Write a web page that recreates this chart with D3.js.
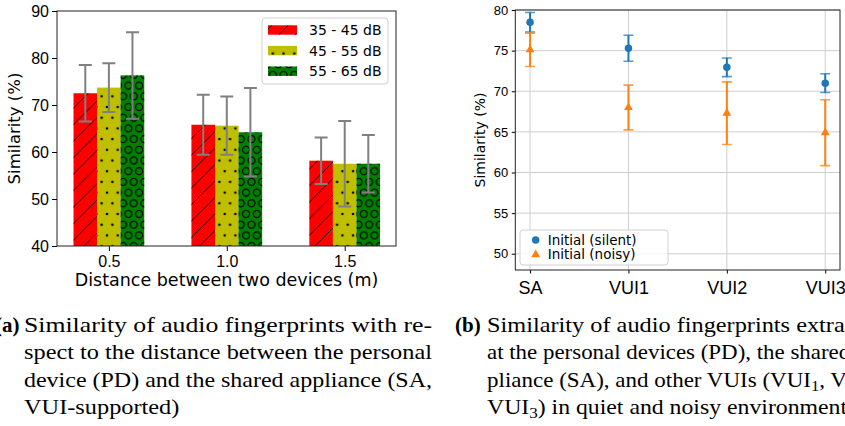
<!DOCTYPE html>
<html>
<head>
<meta charset="utf-8">
<script src="https://cdn.jsdelivr.net/npm/d3@7"></script>
<style>
body { margin: 0; background: #fff; }
svg { display: block; font-family: "DejaVu Sans", sans-serif; }
.caption text { font-family: "Liberation Serif", "DejaVu Serif", serif; }
</style>
</head>
<body>
<svg id="fig" width="845" height="426"></svg>
<script>
// (a) similarity vs distance, three noise levels
var distances = ["0.5", "1.0", "1.5"],
    noiseLevels = ["35 - 45 dB", "45 - 55 dB", "55 - 65 dB"],
    simLow = [72.5, 65.8, 58.15],
    errLow = [6.0, 6.4, 4.95],
    simMid = [73.7, 65.6, 57.5],
    errMid = [5.2, 6.2, 9.1],
    simHigh = [76.3, 64.2, 57.5],
    errHigh = [9.2, 9.4, 6.1],
    yTicksA = [40, 50, 60, 70, 80, 90];

// (b) similarity per device, silent vs noisy
var devices = ["SA", "VUI1", "VUI2", "VUI3"],
    silent = [78.5, 75.3, 72.95, 71.0],
    silentErr = [1.2, 1.6, 1.15, 1.15],
    noisy = [75.1, 68.0, 67.3, 64.9],
    noisyErr = [2.05, 2.75, 3.85, 4.05],
    yTicksB = [50, 55, 60, 65, 70, 75, 80];

var svg = d3.select("#fig");
var defs = svg.append("defs");

// hatch patterns (matplotlib style: '/', '.', 'O')
var s = 10.7;
defs.append("pattern")
    .attr("id", "hatchDiag")
    .attr("patternUnits", "userSpaceOnUse")
    .attr("width", 16.5).attr("height", 16.5)
  .append("path")
    .attr("d", "M-4,4L4,-4M0,16.5L16.5,0M12.5,20.5L20.5,12.5")
    .attr("stroke", "#000").attr("stroke-width", 0.9);

var pDots = defs.append("pattern")
    .attr("id", "hatchDots")
    .attr("patternUnits", "userSpaceOnUse")
    .attr("width", s).attr("height", 2 * s);
var pCirc = defs.append("pattern")
    .attr("id", "hatchCircles")
    .attr("patternUnits", "userSpaceOnUse")
    .attr("width", s).attr("height", 2 * s);
var spots = [[0, 0], [s, 0], [0, 2 * s], [s, 2 * s], [s / 2, s]];
pDots.selectAll("circle").data(spots).join("circle")
    .attr("cx", d => d[0]).attr("cy", d => d[1]).attr("r", 1.3)
    .attr("fill", "#000");
pCirc.selectAll("circle").data(spots).join("circle")
    .attr("cx", d => d[0]).attr("cy", d => d[1]).attr("r", 3.5)
    .attr("fill", "none").attr("stroke", "#000").attr("stroke-width", 1.2);

// ---------- panel (a) ----------
var xA = d3.scaleLinear().domain([-0.44, 2.435]).range([57, 396]),
    yA = d3.scaleLinear().domain([40, 90]).range([246, 11]),
    barW = 0.2;

var seriesA = [
  {name: noiseLevels[0], vals: simLow, errs: errLow, color: "#ff0000", hatch: "hatchDiag"},
  {name: noiseLevels[1], vals: simMid, errs: errMid, color: "#bfbf00", hatch: "hatchDots"},
  {name: noiseLevels[2], vals: simHigh, errs: errHigh, color: "#008000", hatch: "hatchCircles"}
];

var gA = svg.append("g");

seriesA.forEach(function(ser, k) {
  var off = (k - 1) * barW;
  var g = gA.append("g");
  var rows = ser.vals.map((v, i) => ({i: i, v: v, e: ser.errs[i]}));
  g.selectAll("rect.fill").data(rows).join("rect")
      .attr("class", "fill")
      .attr("x", d => xA(d.i + off - barW / 2))
      .attr("width", d => xA(d.i + off + barW / 2) - xA(d.i + off - barW / 2))
      .attr("y", d => yA(d.v))
      .attr("height", d => yA(40) - yA(d.v))
      .attr("fill", ser.color);
  g.selectAll("rect.hatch").data(rows).join("rect")
      .attr("class", "hatch")
      .attr("x", d => xA(d.i + off - barW / 2))
      .attr("width", d => xA(d.i + off + barW / 2) - xA(d.i + off - barW / 2))
      .attr("y", d => yA(d.v))
      .attr("height", d => yA(40) - yA(d.v))
      .attr("fill", "url(#" + ser.hatch + ")");
});

// error bars on top of all bars
seriesA.forEach(function(ser, k) {
  var off = (k - 1) * barW;
  var rows = ser.vals.map((v, i) => ({i: i, v: v, e: ser.errs[i]}));
  var eb = gA.append("g").attr("stroke", "#808080").attr("stroke-width", 2).attr("fill", "none");
  eb.selectAll("path").data(rows).join("path")
      .attr("d", function(d) {
        var cx = xA(d.i + off), t = yA(d.v + d.e), b = yA(d.v - d.e), c = 6.5;
        return "M" + cx + "," + t + "V" + b +
               "M" + (cx - c) + "," + t + "H" + (cx + c) +
               "M" + (cx - c) + "," + b + "H" + (cx + c);
      });
});

gA.append("g")
    .attr("transform", "translate(57,0)")
    .call(d3.axisLeft(yA).tickValues(yTicksA).tickSize(5).tickPadding(3))
    .call(g => g.select(".domain").remove())
    .call(g => g.selectAll("text").attr("font-size", 16).attr("fill", "#000"));

gA.append("g")
    .attr("transform", "translate(0,246)")
    .call(d3.axisBottom(xA).tickValues([0, 1, 2]).tickFormat(i => distances[i]).tickSize(5).tickPadding(4.5))
    .call(g => g.select(".domain").remove())
    .call(g => g.selectAll("text").attr("font-size", 16).attr("fill", "#000"));

gA.append("rect")
    .attr("x", 57).attr("y", 11).attr("width", 339).attr("height", 235)
    .attr("fill", "none").attr("stroke", "#222").attr("stroke-width", 1);

gA.append("text")
    .attr("x", 226.5).attr("y", 286)
    .attr("text-anchor", "middle").attr("font-size", 17.5)
    .text("Distance between two devices (m)");

gA.append("text")
    .attr("transform", "translate(20,128.5) rotate(-90)")
    .attr("text-anchor", "middle").attr("font-size", 16.5)
    .text("Similarity (%)");

// legend (a)
var legA = gA.append("g");
legA.append("rect")
    .attr("x", 262).attr("y", 18).attr("width", 126).attr("height", 66).attr("rx", 3)
    .attr("fill", "#fff").attr("fill-opacity", 0.8)
    .attr("stroke", "#d0d0d0");
seriesA.forEach(function(ser, k) {
  var cy = 30 + k * 20.6;
  legA.append("rect").attr("x", 268).attr("y", cy - 4.7).attr("width", 29).attr("height", 9.4)
      .attr("fill", ser.color);
  legA.append("rect").attr("x", 268).attr("y", cy - 4.7).attr("width", 29).attr("height", 9.4)
      .attr("fill", "url(#" + ser.hatch + ")");
  legA.append("text").attr("x", 309).attr("y", cy).attr("dy", "0.36em")
      .attr("font-size", 14).text(ser.name);
});

// ---------- panel (b) ----------
var xB = d3.scaleLinear().domain([-0.15, 3.15]).range([515.3, 840]),
    yB = d3.scaleLinear().domain([48, 80]).range([270, 10]);

var gB = svg.append("g");

// grid
gB.append("g").selectAll("line").data(yTicksB).join("line")
    .attr("x1", 515.3).attr("x2", 840)
    .attr("y1", d => yB(d)).attr("y2", d => yB(d))
    .attr("stroke", "#cfcfcf").attr("stroke-width", 1);
gB.append("g").selectAll("line").data(devices).join("line")
    .attr("x1", (d, i) => xB(i)).attr("x2", (d, i) => xB(i))
    .attr("y1", 10).attr("y2", 270)
    .attr("stroke", "#cfcfcf").attr("stroke-width", 1);

var seriesB = [
  {name: "Initial (silent)", vals: silent, errs: silentErr, color: "#1f77b4", shape: d3.symbolCircle, size: 44},
  {name: "Initial (noisy)", vals: noisy, errs: noisyErr, color: "#ff7f0e", shape: d3.symbolTriangle, size: 34}
];

seriesB.forEach(function(ser) {
  var rows = ser.vals.map((v, i) => ({i: i, v: v, e: ser.errs[i]}));
  var g = gB.append("g");
  g.selectAll("path.err").data(rows).join("path")
      .attr("class", "err")
      .attr("fill", "none").attr("stroke", ser.color).attr("stroke-width", 2)
      .attr("d", d => "M" + xB(d.i) + "," + yB(d.v + d.e) + "V" + yB(d.v - d.e));
  g.selectAll("path.cap").data(rows).join("path")
      .attr("class", "cap")
      .attr("fill", "none").attr("stroke", ser.color).attr("stroke-width", 1.6)
      .attr("stroke-opacity", 0.75)
      .attr("d", function(d) {
        var cx = xB(d.i), t = yB(d.v + d.e), b = yB(d.v - d.e);
        return "M" + (cx - 5) + "," + t + "H" + (cx + 5) + "M" + (cx - 5) + "," + b + "H" + (cx + 5);
      });
  g.selectAll("path.mark").data(rows).join("path")
      .attr("class", "mark")
      .attr("transform", d => "translate(" + xB(d.i) + "," + yB(d.v) + ")")
      .attr("d", d3.symbol(ser.shape, ser.size))
      .attr("fill", ser.color);
});

gB.append("g")
    .attr("transform", "translate(515.3,0)")
    .call(d3.axisLeft(yB).tickValues(yTicksB).tickSize(3.5).tickPadding(3.5))
    .call(g => g.select(".domain").remove())
    .call(g => g.selectAll("text").attr("font-size", 13).attr("fill", "#000"));

gB.append("g")
    .attr("transform", "translate(0,270)")
    .call(d3.axisBottom(xB).tickValues([0, 1, 2, 3]).tickFormat(i => devices[i]).tickSize(3.5).tickPadding(7.5))
    .call(g => g.select(".domain").remove())
    .call(g => g.selectAll("text").attr("font-size", 18).attr("fill", "#000"));

gB.append("rect")
    .attr("x", 515.3).attr("y", 10).attr("width", 324.7).attr("height", 260)
    .attr("fill", "none").attr("stroke", "#222").attr("stroke-width", 1);

gB.append("text")
    .attr("transform", "translate(484.5,140) rotate(-90)")
    .attr("text-anchor", "middle").attr("font-size", 14)
    .text("Similarity (%)");

// legend (b)
var legB = gB.append("g");
legB.append("rect")
    .attr("x", 520).attr("y", 230).attr("width", 148).attr("height", 35).attr("rx", 3)
    .attr("fill", "#fff").attr("fill-opacity", 0.8)
    .attr("stroke", "#d0d0d0");
seriesB.forEach(function(ser, k) {
  var cy = 240 + k * 14.6;
  legB.append("path")
      .attr("transform", "translate(535.7," + cy + ")")
      .attr("d", d3.symbol(ser.shape, ser.size))
      .attr("fill", ser.color);
  legB.append("text").attr("x", 547.7).attr("y", cy).attr("dy", "0.36em")
      .attr("font-size", 13.5).text(ser.name);
});

// ---------- captions ----------
var capA = [
  [["Similarity of audio fingerprints with re-"]],
  [["spect to the distance between the personal"]],
  [["device (PD) and the shared appliance (SA,"]],
  [["VUI-supported)"]]
];
var capB = [
  [["Similarity of audio fingerprints extracted"]],
  [["at the personal devices (PD), the shared ap-"]],
  [["pliance (SA), and other VUIs (VUI"], ["1", "sub"], [", VUI"], ["2", "sub"], [","]],
  [["VUI"], ["3", "sub"], [") in quiet and noisy environments"]]
];
var capY = [332, 359.3, 386.6, 414],
    capFont = 21,
    colW = 408;

var cap = svg.append("g").attr("class", "caption");

function writeLine(x, y, parts) {
  var t = cap.append("text").attr("x", x).attr("y", y).attr("font-size", capFont);
  parts.forEach(function(p) {
    var ts = t.append("tspan").text(p[0]);
    if (p[1] === "sub") ts.attr("font-size", capFont * 0.72).attr("dy", 4);
    else if (ts.node().previousSibling) ts.attr("dy", -4);
  });
  return t;
}

// horizontal squeeze taken from a full justified line
var probe = writeLine(0, -50, capA[1]);
var squeeze = colW / probe.node().getComputedTextLength();
probe.remove();

// [lines, text x, label, label x, label anchor, width factor]
[[capA, 24, "(a)", 19.5, "end", 1], [capB, 487, "(b)", 455, "start", 0.976]].forEach(function(c) {
  cap.append("text").attr("x", c[3]).attr("y", capY[0])
      .attr("text-anchor", c[4]).attr("font-size", capFont).attr("font-weight", "bold")
      .text(c[2]);
  c[0].forEach(function(parts, li) {
    var t = writeLine(c[1], capY[li], parts);
    var w = (li < 3 ? colW : t.node().getComputedTextLength() * squeeze) * c[5];
    t.attr("textLength", w).attr("lengthAdjust", "spacingAndGlyphs");
  });
});
</script>
</body>
</html>
